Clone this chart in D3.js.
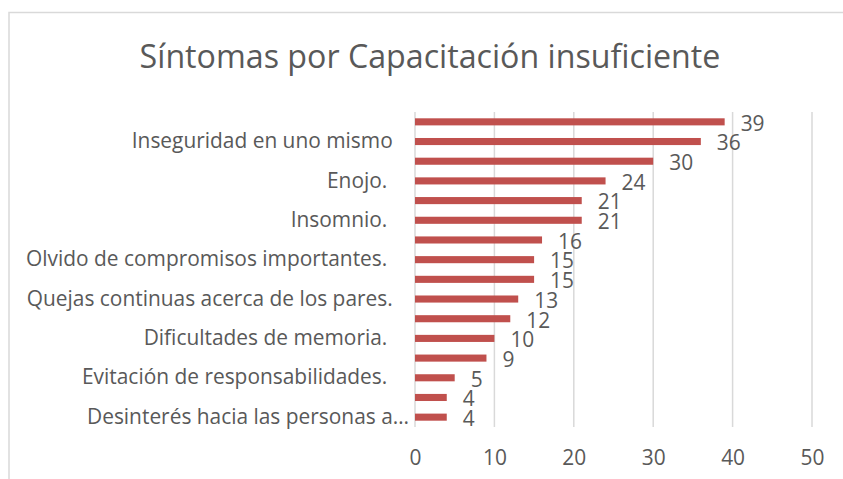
<!DOCTYPE html>
<html>
<head>
<meta charset="utf-8">
<script src="https://cdn.jsdelivr.net/npm/d3@7"></script>
<style>
  body { margin: 0; background: #fff; }
  svg text { font-family: "Open Sans", sans-serif; fill: #595959; white-space: pre; }
</style>
</head>
<body>
<svg width="843" height="479"></svg>
<script>
// values top to bottom, only every other category carries a visible label
var values = [39, 36, 30, 24, 21, 21, 16, 15, 15, 13, 12, 10, 9, 5, 4, 4];
var categories = ["", "Inseguridad en uno mismo   ", "", "Enojo.    ", "", "Insomnio.    ", "",
  "Olvido de compromisos importantes.    ", "", "Quejas continuas acerca de los pares.   ", "",
  "Dificultades de memoria.    ", "", "Evitación de responsabilidades.    ", "",
  "Desinterés hacia las personas a…"];
var xTicks = [0, 10, 20, 30, 40, 50];
var title = "Síntomas por Capacitación insuficiente";

var svg = d3.select("svg");
var plotLeft = 415, plotRight = 812, plotTop = 112, plotBottom = 427;
var fs = "20.9px";

// outer chart frame
svg.append("rect")
  .attr("x", 9).attr("y", 12.5)
  .attr("width", 900).attr("height", 600)
  .attr("fill", "none").attr("stroke", "#d9d9d9").attr("stroke-width", 1.5);

svg.append("text")
  .attr("x", 430).attr("y", 68)
  .attr("text-anchor", "middle")
  .style("font-size", "32.2px")
  .text(title);

var xScale = d3.scaleLinear().domain([0, 50]).range([plotLeft, plotRight]);
var yScale = d3.scaleBand().domain(d3.range(values.length)).range([plotTop, plotBottom])
  .paddingInner(0.64).paddingOuter(0.32);

var g = svg.append("g");

// vertical gridlines
g.selectAll(".grid")
  .data(xTicks)
  .enter().append("line")
  .attr("x1", function(d) { return xScale(d); })
  .attr("x2", function(d) { return xScale(d); })
  .attr("y1", plotTop).attr("y2", plotBottom)
  .attr("stroke", "#d9d9d9").attr("stroke-width", 1.5);

var xAxis = g.append("g")
  .attr("transform", "translate(0," + plotBottom + ")")
  .call(d3.axisBottom(xScale).tickValues(xTicks).tickSize(0).tickPadding(23));
xAxis.select(".domain").remove();
xAxis.selectAll("text").style("font-size", fs).attr("fill", null);
xAxis.attr("font-family", null).attr("font-size", null);

var yAxis = g.append("g")
  .attr("transform", "translate(409,0)")
  .call(d3.axisLeft(yScale).tickSize(0).tickPadding(0).tickFormat(function(i) { return categories[i]; }));
yAxis.select(".domain").remove();
yAxis.selectAll("text").style("font-size", fs).attr("fill", null);
yAxis.attr("font-family", null).attr("font-size", null);

g.selectAll(".bar")
  .data(values)
  .enter().append("rect")
  .attr("class", "bar")
  .attr("x", xScale(0))
  .attr("y", function(d, i) { return yScale(i); })
  .attr("width", function(d) { return xScale(d) - xScale(0); })
  .attr("height", yScale.bandwidth())
  .attr("fill", "#c0504d");

g.selectAll(".val")
  .data(values)
  .enter().append("text")
  .attr("class", "val")
  .attr("x", function(d) { return xScale(d) + 16; })
  .attr("y", function(d, i) { return yScale(i) + yScale.bandwidth() / 2 + 1.5; })
  .attr("dy", "0.35em")
  .style("font-size", fs)
  .text(function(d) { return d; });
</script>
</body>
</html>
